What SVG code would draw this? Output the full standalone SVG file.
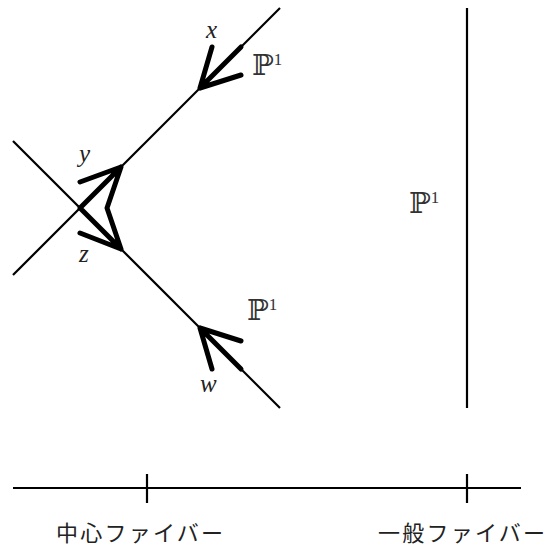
<svg xmlns="http://www.w3.org/2000/svg" width="546" height="549" viewBox="0 0 546 549">
<style>
.thin{stroke:#000;stroke-width:2.2;fill:none}
.thick{stroke:#000;stroke-width:5;fill:none;stroke-linecap:round;stroke-linejoin:round}
.var{font-family:"Liberation Serif",serif;font-style:italic;font-size:25px;fill:#222}
.pp{font-family:"DejaVu Serif",serif;font-size:29px;fill:#333}
.sup{font-family:"Liberation Serif",serif;font-size:17px;fill:#333}
.jp{font-family:"Noto Sans CJK JP",sans-serif;font-size:22px;fill:#222}
</style>
<rect width="546" height="549" fill="#fff"/>
<g id="connectors">
<line class="thin" x1="13" y1="275" x2="280" y2="8"/>
<line class="thin" x1="13" y1="141" x2="280" y2="408"/>
<line class="thin" x1="467" y1="8" x2="467" y2="408"/>
<line class="thin" x1="13" y1="488" x2="521" y2="488"/>
<line class="thin" x1="147" y1="474" x2="147" y2="503"/>
<line class="thin" x1="467" y1="474" x2="467" y2="503"/>
<path class="thick" d="M200,88 L241,47 M212,47 L200,88 L241,75"/>
<path class="thick" d="M80,208 L121,167 M80,208 L121,249 M80,182 L121,167 L107,208 L121,249 L80,233"/>
<path class="thick" d="M200,328 L241,369 M241,341 L200,328 L212,369"/>
</g>
<g id="label-x"><text class="var" x="206" y="38">x</text></g>
<g id="label-y"><text class="var" x="79" y="162">y</text></g>
<g id="label-z"><text class="var" x="79" y="262">z</text></g>
<g id="label-w"><text class="var" x="200" y="392">w</text></g>
<g id="p1-upper"><text class="pp" x="252" y="75">ℙ<tspan class="sup" dy="-10">1</tspan></text></g>
<g id="p1-lower"><text class="pp" x="247" y="320">ℙ<tspan class="sup" dy="-10">1</tspan></text></g>
<g id="p1-general"><text class="pp" x="409" y="213">ℙ<tspan class="sup" dy="-10">1</tspan></text></g>
<g id="central-fiber"><text class="jp" x="56" y="541" textLength="167" lengthAdjust="spacing">中心ファイバー</text></g>
<g id="general-fiber"><text class="jp" x="378" y="541" textLength="167" lengthAdjust="spacing">一般ファイバー</text></g>
</svg>
